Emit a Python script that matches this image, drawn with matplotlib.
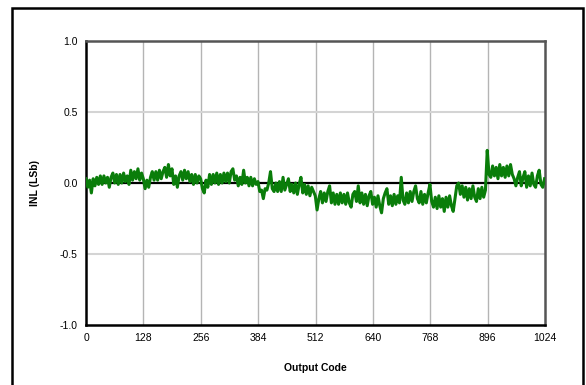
import numpy as np
import matplotlib
matplotlib.use("Agg")
import matplotlib.pyplot as plt
from matplotlib.patches import Rectangle

plt.rcParams["font.family"] = ["Liberation Sans", "DejaVu Sans"]

# INL trace, one value every ~4 codes
inl = [
    0.03, -0.03, 0.02, -0.07, 0.03, -0.02, 0.04, -0.01, 0.05, -0.01, 0.05, 0.00, 0.04, -0.03, 0.04,
    0.07, 0.00, 0.06, -0.01, 0.06, 0.00, 0.07, 0.01, 0.05, -0.01,
    0.09, 0.02, 0.08, 0.03, 0.10, 0.02, 0.07,
    0.03, -0.04, 0.02, -0.03, 0.04,
    0.08, 0.02, 0.08, 0.02, 0.09, 0.03, 0.08,
    0.11, 0.04, 0.13, 0.05, 0.10,
    -0.01, 0.05, -0.03, 0.05,
    0.08, 0.02, 0.09, 0.03, 0.08, 0.01,
    0.06, -0.01, 0.06, 0.00, 0.05,
    0.03, -0.04, -0.07, 0.02, -0.03,
    0.06, -0.01, 0.06, 0.00, 0.07, -0.01, 0.06, 0.00, 0.07, 0.01, 0.07, 0.00, 0.08, 0.10, 0.02,
    0.05, -0.02, 0.04, -0.01, 0.09, 0.00, 0.04, -0.02, 0.04, -0.02, 0.03, -0.01,
    0.01, -0.06, -0.05, -0.11, -0.04,
    -0.05, 0.00, 0.08, -0.04,
    -0.06, 0.00, -0.06, 0.01, -0.06, 0.04, -0.05, -0.01, 0.03, -0.06, -0.01, -0.07, 0.00,
    -0.08, -0.01, 0.04, -0.07, -0.01, -0.08, -0.02, -0.09, -0.03, -0.06,
    -0.09, -0.19, -0.11,
    -0.06, -0.14, -0.07, -0.13, -0.06, -0.02,
    -0.14, -0.07, -0.15, -0.08, -0.15, -0.07, -0.14, -0.08, -0.15, -0.07, -0.14, -0.17, -0.08,
    -0.06, -0.13, -0.02, -0.14, -0.07, -0.15, -0.08, -0.16, -0.09, -0.06,
    -0.15, -0.10, -0.17, -0.09, -0.16, -0.21, -0.11,
    -0.07, -0.04, -0.15, -0.09, -0.16, -0.08, -0.15, -0.09, -0.14,
    0.04, -0.12,
    -0.15, -0.07, -0.14, -0.06, -0.13,
    -0.06, -0.02, -0.11,
    -0.14, -0.06, -0.15, -0.08, -0.14, -0.07, -0.01,
    -0.13, -0.17, -0.10, -0.18, -0.09, -0.17, -0.11, -0.20, -0.10, -0.17, -0.09, -0.16, -0.20, -0.11,
    -0.02, 0.00, -0.08, -0.02,
    -0.10, -0.03, -0.12, -0.04, -0.11, -0.02, -0.10, -0.13, -0.04, -0.11, -0.03, -0.10, -0.05,
    0.23, 0.06,
    0.04, 0.12, 0.05, 0.11, 0.03, 0.13, 0.05, 0.11, 0.04, 0.12, 0.05, 0.13, 0.06,
    0.03, -0.02,
    0.04, 0.08, -0.02, 0.04, 0.08, -0.03, 0.05, -0.02, 0.07, -0.01, -0.03, 0.05, 0.09, -0.01, -0.03, 0.03,
]
codes = np.linspace(0, 1023, len(inl))

x_ticks = [0, 128, 256, 384, 512, 640, 768, 896, 1024]
y_ticks = [-1.0, -0.5, 0.0, 0.5, 1.0]

fig = plt.figure(figsize=(5.86, 3.85), dpi=100)
ax = fig.add_axes([86 / 586, 1 - 325 / 385, 459 / 586, 284 / 385])

for x in x_ticks[1:-1]:
    ax.axvline(x, color="#b4b4b4", lw=1.0, zorder=1)
for y in (-0.5, 0.5):
    ax.axhline(y, color="#d4d4d4", lw=1.5, zorder=1)
ax.axhline(0, color="black", lw=1.6, zorder=2)

ax.plot(codes, inl, color="#0a7d0a", lw=2.2, zorder=3)

ax.set_xlim(0, 1024)
ax.set_ylim(-1.0, 1.0)
ax.set_xticks(x_ticks)
ax.set_yticks(y_ticks)
ax.set_yticklabels([f"{v:.1f}" for v in y_ticks])
ax.tick_params(length=0, labelsize=7.5, pad=6)

for side in ("left", "bottom"):
    ax.spines[side].set_color("black")
    ax.spines[side].set_linewidth(1.8)
for side in ("top", "right"):
    ax.spines[side].set_color("#555555")
    ax.spines[side].set_linewidth(1.8)

ax.set_xlabel("Output Code", fontsize=7.5, fontweight="bold", labelpad=14)
ax.set_ylabel("INL (LSb)", fontsize=7.5, fontweight="bold", labelpad=14)

# outer frame of the original figure
fig.patches.append(Rectangle((12 / 586, -0.05), 571 / 586, 1 - 8 / 385 + 0.05,
                             transform=fig.transFigure, fill=False,
                             edgecolor="black", lw=1.8))

fig.savefig("out.png", dpi=100)
